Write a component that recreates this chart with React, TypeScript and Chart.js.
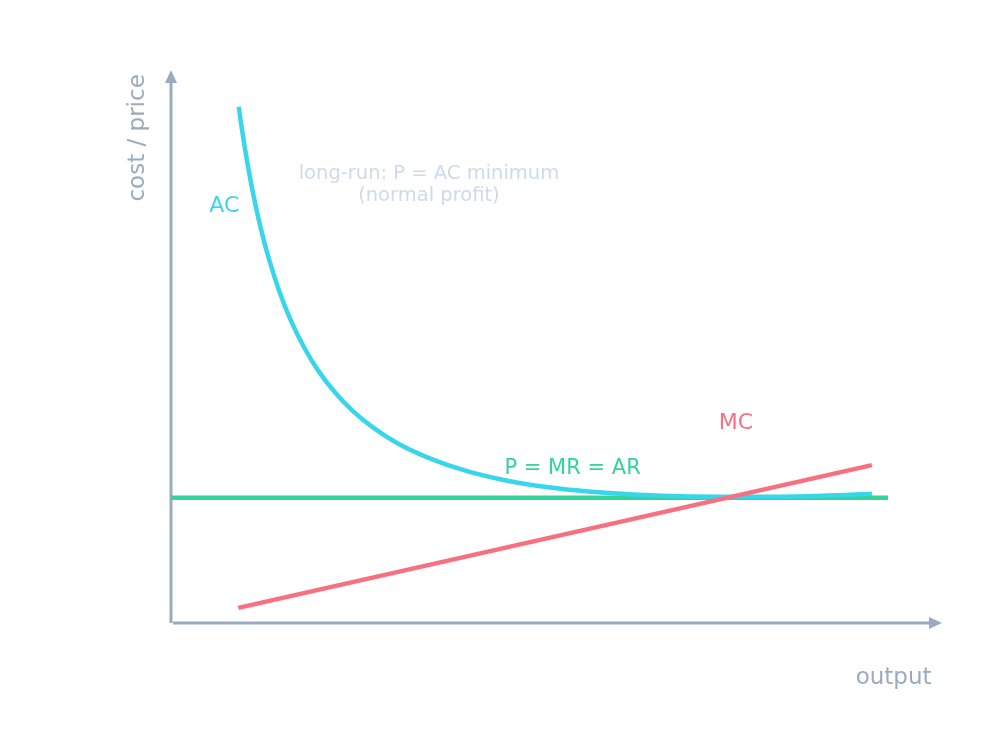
import { useEffect, useRef } from 'react'
import { Chart, registerables } from 'chart.js'

Chart.register(...registerables)

// quantity / cost values
const acOutput = [0.966, 1.0, 1.05, 1.1, 1.2, 1.3, 1.4, 1.55, 1.7, 1.9, 2.1, 2.35, 2.6, 2.9, 3.25, 3.7, 4.2, 4.8, 5.5, 6.2, 7.0, 7.8, 8.6, 9.3, 10.0]
const acCost = [10.27, 9.93, 9.48, 9.07, 8.35, 7.74, 7.23, 6.58, 6.05, 5.48, 5.02, 4.57, 4.21, 3.87, 3.56, 3.27, 3.03, 2.83, 2.68, 2.59, 2.53, 2.51, 2.51, 2.53, 2.57]
const mcOutput = [0.96, 10.0]
const mcCost = [0.3, 3.14]
const priceOutput = [0.0, 10.23]
const priceLevel = [2.49, 2.49]

const AXIS_MAX_X = 11
const AXIS_MAX_Y = 11

const AXIS_COLOR = '#9aabc0'
const AC_COLOR = '#38d6ea'
const MC_COLOR = '#f8707f'
const P_COLOR = '#34d399'
const FONT = '"DejaVu Sans", sans-serif'

const toPoints = (xs: number[], ys: number[]) => xs.map((x, i) => ({ x, y: ys[i] }))

const axesAndLabels = {
  id: 'axesAndLabels',
  beforeDatasetsDraw(chart: Chart) {
    const { ctx } = chart
    const xs = chart.scales.x
    const ys = chart.scales.y
    const x0 = xs.getPixelForValue(0)
    const y0 = ys.getPixelForValue(0)
    const xEnd = xs.getPixelForValue(AXIS_MAX_X)
    const yEnd = ys.getPixelForValue(AXIS_MAX_Y)

    ctx.save()
    ctx.strokeStyle = AXIS_COLOR
    ctx.fillStyle = AXIS_COLOR
    ctx.lineWidth = 3
    // y axis
    ctx.beginPath()
    ctx.moveTo(x0, y0)
    ctx.lineTo(x0, yEnd + 10)
    ctx.stroke()
    ctx.beginPath()
    ctx.moveTo(x0, yEnd)
    ctx.lineTo(x0 - 6, yEnd + 13)
    ctx.lineTo(x0 + 6, yEnd + 13)
    ctx.closePath()
    ctx.fill()
    // x axis
    ctx.beginPath()
    ctx.moveTo(x0 + 2, y0)
    ctx.lineTo(xEnd - 10, y0)
    ctx.stroke()
    ctx.beginPath()
    ctx.moveTo(xEnd, y0)
    ctx.lineTo(xEnd - 13, y0 - 6)
    ctx.lineTo(xEnd - 13, y0 + 6)
    ctx.closePath()
    ctx.fill()
    ctx.restore()
  },
  afterDraw(chart: Chart) {
    const { ctx } = chart
    const xs = chart.scales.x
    const ys = chart.scales.y
    const px = (v: number) => xs.getPixelForValue(v)
    const py = (v: number) => ys.getPixelForValue(v)

    ctx.save()
    ctx.textAlign = 'center'
    ctx.textBaseline = 'middle'

    ctx.font = `22px ${FONT}`
    ctx.fillStyle = AC_COLOR
    ctx.fillText('AC', px(0.76), py(8.28))
    ctx.fillStyle = MC_COLOR
    ctx.fillText('MC', px(8.06), py(3.98))

    ctx.font = `21px ${FONT}`
    ctx.fillStyle = P_COLOR
    ctx.fillText('P = MR = AR', px(5.73), py(3.07))

    ctx.font = `19.5px ${FONT}`
    ctx.fillStyle = '#cfdae8'
    ctx.fillText('long-run: P = AC minimum', px(3.68), py(8.93))
    ctx.fillText('(normal profit)', px(3.68), py(8.49))

    ctx.font = `23px ${FONT}`
    ctx.fillStyle = AXIS_COLOR
    ctx.fillText('output', px(10.31), py(-1.1))

    ctx.translate(px(-0.47), py(9.65))
    ctx.rotate(-Math.PI / 2)
    ctx.fillText('cost / price', 0, 0)
    ctx.restore()
  },
}

export default function App() {
  const canvasRef = useRef<HTMLCanvasElement>(null)
  const chartRef = useRef<Chart | null>(null)

  useEffect(() => {
    if (!canvasRef.current) return
    if (chartRef.current) chartRef.current.destroy()

    chartRef.current = new Chart(canvasRef.current, {
      type: 'line',
      data: {
        datasets: [
          {
            label: 'MC',
            data: toPoints(mcOutput, mcCost),
            borderColor: MC_COLOR,
            borderWidth: 4.5,
            pointRadius: 0,
            order: 0,
          },
          {
            label: 'AC',
            data: toPoints(acOutput, acCost),
            borderColor: AC_COLOR,
            borderWidth: 4.5,
            pointRadius: 0,
            cubicInterpolationMode: 'monotone',
            order: 1,
          },
          {
            label: 'P = MR = AR',
            data: toPoints(priceOutput, priceLevel),
            borderColor: P_COLOR,
            borderWidth: 4.5,
            pointRadius: 0,
            order: 2,
          },
        ],
      },
      options: {
        animation: false,
        responsive: true,
        maintainAspectRatio: false,
        layout: { padding: { left: 171, right: 54, top: 70, bottom: 133 } },
        scales: {
          x: { type: 'linear', min: 0, max: AXIS_MAX_X, display: false },
          y: { type: 'linear', min: 0, max: AXIS_MAX_Y, display: false },
        },
        plugins: {
          legend: { display: false },
          tooltip: { enabled: false },
        },
      },
      plugins: [axesAndLabels],
    })

    return () => {
      if (chartRef.current) {
        chartRef.current.destroy()
        chartRef.current = null
      }
    }
  }, [])

  return (
    <div style={{ position: 'fixed', left: 0, top: 0, width: '996px', height: '756px', background: '#ffffff' }}>
      <canvas ref={canvasRef} />
    </div>
  )
}
